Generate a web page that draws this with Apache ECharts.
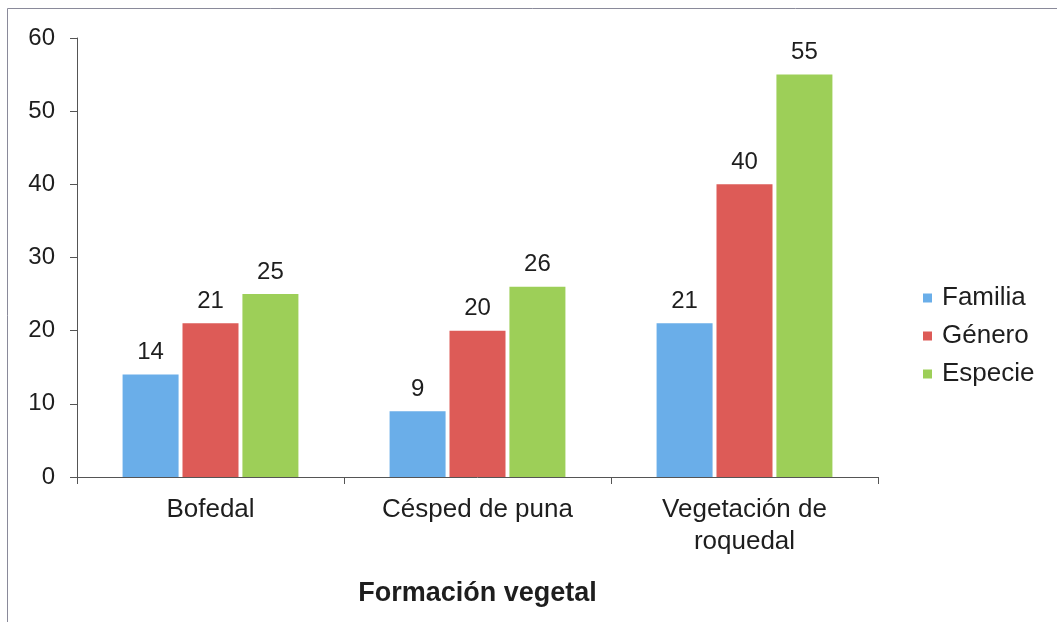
<!DOCTYPE html>
<html>
<head>
<meta charset="utf-8">
<script src="https://cdn.jsdelivr.net/npm/echarts@6/dist/echarts.min.js"></script>
<style>
  html, body { margin: 0; padding: 0; background: #fff; }
  #chart { width: 1057px; height: 622px; }
</style>
</head>
<body>
<div id="chart"></div>
<script>
// Plant formations and taxonomic richness
const categories = ['Bofedal', 'Césped de puna', 'Vegetación de\nroquedal'];
const familia = [14, 9, 21];
const genero = [21, 20, 40];
const especie = [25, 26, 55];
const seriesNames = ['Familia', 'Género', 'Especie'];
const seriesColors = ['#6aaee9', '#dd5b57', '#9dcf58'];
const axisTitle = 'Formación vegetal';

const FONT = '"Liberation Sans", Arial, sans-serif';
const TEXT = '#1e1e1e';

const chart = echarts.init(document.getElementById('chart'), null, { renderer: 'canvas' });

function barSeries(name, data, color) {
  return {
    name: name,
    type: 'bar',
    data: data,
    barWidth: 56,
    barGap: '7%',
    itemStyle: { color: color },
    label: {
      show: true,
      position: 'top',
      distance: 10,
      color: TEXT,
      fontFamily: FONT,
      fontSize: 24
    }
  };
}

chart.setOption({
  backgroundColor: '#fff',
  animation: false,
  graphic: [{
    type: 'rect',
    shape: { x: 7.5, y: 8.5, width: 1200, height: 800 },
    style: { fill: 'none', stroke: '#8a8a9a', lineWidth: 1 },
    silent: true
  }],
  grid: { left: 77, top: 38, right: 179, bottom: 145 },
  legend: {
    orient: 'vertical',
    left: 918,
    top: 280,
    itemWidth: 9,
    itemHeight: 9,
    itemGap: 12,
    icon: 'rect',
    textStyle: { color: TEXT, fontFamily: FONT, fontSize: 26, padding: [0, 0, 0, 5] },
    data: seriesNames
  },
  xAxis: {
    type: 'category',
    data: categories,
    name: axisTitle,
    nameLocation: 'middle',
    nameGap: 103,
    nameTextStyle: { color: TEXT, fontFamily: FONT, fontSize: 27, fontWeight: 'bold' },
    axisLine: { lineStyle: { color: '#555', width: 1 } },
    axisTick: { show: true, length: 7, inside: false, lineStyle: { color: '#555' } },
    axisLabel: { color: TEXT, fontFamily: FONT, fontSize: 26, lineHeight: 32, margin: 17 },
  },
  yAxis: {
    type: 'value',
    min: 0,
    max: 60,
    interval: 10,
    axisLine: { show: true, lineStyle: { color: '#555', width: 1 } },
    axisTick: { show: true, length: 7, lineStyle: { color: '#555' } },
    axisLabel: { color: TEXT, fontFamily: FONT, fontSize: 24, margin: 22 },
    splitLine: { show: false }
  },
  series: [
    barSeries(seriesNames[0], familia, seriesColors[0]),
    barSeries(seriesNames[1], genero, seriesColors[1]),
    barSeries(seriesNames[2], especie, seriesColors[2])
  ]
});
</script>
</body>
</html>
